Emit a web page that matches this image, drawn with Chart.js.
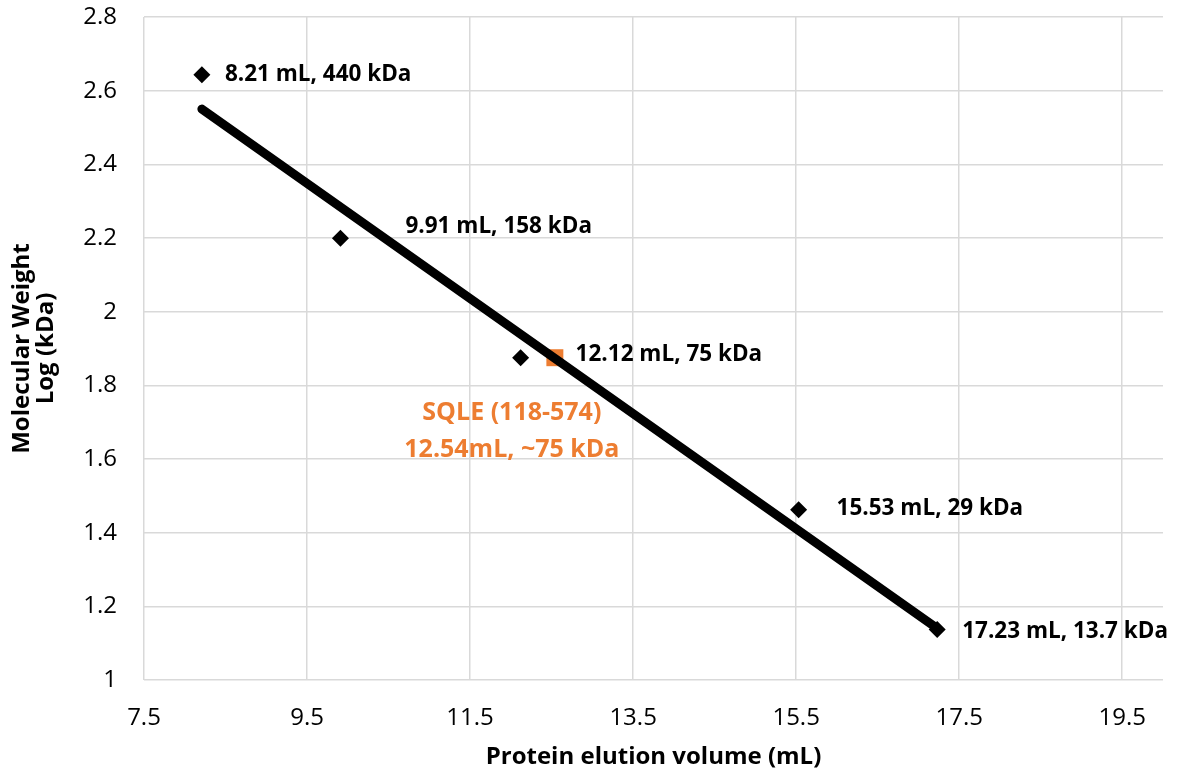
<!DOCTYPE html>
<html>
<head>
<meta charset="utf-8">
<script src="https://cdn.jsdelivr.net/npm/chart.js@4.4.1/dist/chart.umd.min.js"></script>
<style>
  html, body { margin: 0; padding: 0; background: #fff; }
  #wrap { width: 1178px; height: 772px; position: relative; }
</style>
</head>
<body>
<div id="wrap"><canvas id="chart"></canvas></div>
<script>
// Standards: elution volume (mL) vs log10 MW (kDa)
const elution = [8.21, 9.91, 12.12, 15.53, 17.23];
const logMW = [2.643, 2.199, 1.875, 1.462, 1.137];
const pointLabels = ['8.21 mL, 440 kDa', '9.91 mL, 158 kDa', '12.12 mL, 75 kDa', '15.53 mL, 29 kDa', '17.23 mL, 13.7 kDa'];

// SQLE sample
const sqleX = [12.54];
const sqleY = [1.875];
const sqleLabel = ['SQLE (118-574)', '12.54mL, ~75 kDa'];

// trendline ends
const trendX = [8.21, 17.23];
const trendY = [2.55, 1.14];

const xTicks = [7.5, 9.5, 11.5, 13.5, 15.5, 17.5, 19.5];
const yTicks = [1, 1.2, 1.4, 1.6, 1.8, 2, 2.2, 2.4, 2.6, 2.8];

const FONT = "'Open Sans', 'Noto Sans', sans-serif";
const ORANGE = '#ED7D31';

// label offsets in px from the point
const labelOffsets = [[23, 0], [65, -12], [55, -3], [38, -1], [25, 2]];

const labelPlugin = {
  id: 'pointText',
  afterDatasetsDraw(chart) {
    const ctx = chart.ctx;
    const xs = chart.scales.x, ys = chart.scales.y;
    ctx.save();
    ctx.font = 'bold 22.5px ' + FONT;
    ctx.fillStyle = '#000';
    ctx.textAlign = 'left';
    ctx.textBaseline = 'middle';
    elution.forEach((v, i) => {
      const px = xs.getPixelForValue(v) + labelOffsets[i][0];
      const py = ys.getPixelForValue(logMW[i]) + labelOffsets[i][1];
      ctx.fillText(pointLabels[i], px, py);
    });
    // SQLE label
    ctx.font = 'bold 25px ' + FONT;
    ctx.fillStyle = ORANGE;
    ctx.textAlign = 'center';
    const sx = xs.getPixelForValue(sqleX[0]) - 43;
    const sy = ys.getPixelForValue(sqleY[0]);
    ctx.fillText(sqleLabel[0], sx, sy + 55);
    ctx.fillText(sqleLabel[1], sx, sy + 92);
    ctx.restore();
  }
};

new Chart(document.getElementById('chart'), {
  type: 'scatter',
  data: {
    datasets: [
      {
        label: 'Trend',
        type: 'line',
        data: trendX.map((x, i) => ({ x: x, y: trendY[i] })),
        borderColor: '#000',
        borderWidth: 9,
        borderCapStyle: 'round',
        pointRadius: 0,
        fill: false,
        order: 0
      },
      {
        label: 'Standards',
        data: elution.map((x, i) => ({ x: x, y: logMW[i] })),
        pointStyle: 'rectRot',
        pointRadius: 8.5,
        backgroundColor: '#000',
        borderColor: '#000',
        borderWidth: 0,
        order: 1
      },
      {
        label: 'SQLE',
        data: sqleX.map((x, i) => ({ x: x, y: sqleY[i] })),
        pointStyle: 'rect',
        pointRadius: 12,
        backgroundColor: ORANGE,
        borderColor: ORANGE,
        borderWidth: 0,
        order: 1
      }
    ]
  },
  options: {
    responsive: true,
    maintainAspectRatio: false,
    animation: false,
    layout: { padding: { left: 0, right: 15, top: 17, bottom: 0 } },
    plugins: {
      legend: { display: false },
      tooltip: { enabled: false }
    },
    scales: {
      x: {
        type: 'linear',
        min: 7.5,
        max: 20,
        afterBuildTicks: s => { s.ticks = xTicks.map(v => ({ value: v })); },
        afterFit: s => { s.height = 92; s.paddingLeft = 0; s.paddingRight = 0; },
        grid: { color: '#d9d9d9', lineWidth: 1.5, drawTicks: false },
        border: { display: false },
        ticks: {
          padding: 24,
          color: '#000',
          font: { family: FONT, size: 24 },
          callback: v => String(v)
        },
        title: {
          display: true,
          text: 'Protein elution volume (mL)',
          color: '#000',
          font: { family: FONT, size: 24, weight: 'bold' },
          padding: { top: 6, bottom: 0 }
        }
      },
      y: {
        type: 'linear',
        min: 1,
        max: 2.8,
        afterBuildTicks: s => { s.ticks = yTicks.map(v => ({ value: v })); },
        afterFit: s => { s.width = 144; s.paddingTop = 0; s.paddingBottom = 0; },
        grid: { color: '#d9d9d9', lineWidth: 1.5, drawTicks: false },
        border: { display: false },
        ticks: {
          padding: 27,
          color: '#000',
          font: { family: FONT, size: 24 },
          callback: v => String(Number(v.toFixed(1)))
        },
        title: {
          display: true,
          text: ['Molecular Weight', 'Log (kDa)'],
          color: '#000',
          font: { family: FONT, size: 24, weight: 'bold', lineHeight: 1.0 },
          padding: { top: 10, bottom: 0 }
        }
      }
    }
  },
  plugins: [labelPlugin]
});
</script>
</body>
</html>
